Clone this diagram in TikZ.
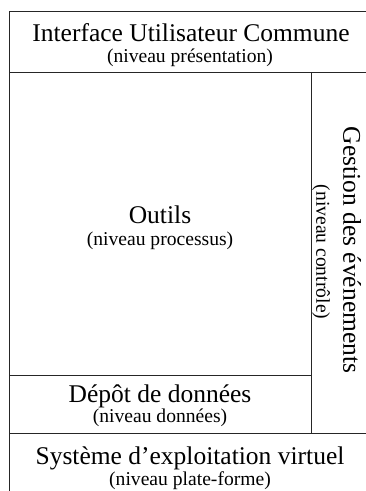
\documentclass[tikz,border=0pt]{standalone}
\usepackage{fontspec}
\setmainfont{Liberation Serif}
\begin{document}
\begin{tikzpicture}[x=1pt,y=-1pt,
  frame/.style={draw=black!85,line width=0.9pt},
  big/.style={font=\fontsize{25.5}{27}\selectfont,inner sep=0pt,anchor=center},
  small/.style={font=\fontsize{19.6}{21}\selectfont,inner sep=0pt,anchor=center}]
\useasboundingbox (0,0) rectangle (366,491);
% frame lines
\coordinate (tl) at (9,11);
\coordinate (tr) at (366,11);
\coordinate (bl) at (9,491);
\coordinate (h1l) at (9,72);
\coordinate (h1r) at (366,72);
\coordinate (v1t) at (311,72);
\coordinate (v1b) at (311,433);
\coordinate (h2l) at (9,375);
\coordinate (h2r) at (311,375);
\coordinate (h3l) at (9,433);
\coordinate (h3r) at (366,433);
\draw[frame] (tr) -- (tl) -- (bl);
\draw[frame] (h1l) -- (h1r);
\draw[frame] (v1t) -- (v1b);
\draw[frame] (h2l) -- (h2r);
\draw[frame] (h3l) -- (h3r);
% texts
\node[big] (iuc) at (191,33) {Interface Utilisateur Commune};
\node[small] (iucs) at (190,58) {(niveau présentation)};
\node[big] (out) at (160,215) {Outils};
\node[small] (outs) at (160,241) {(niveau processus)};
\node[big] (dep) at (160,396) {Dépôt de données};
\node[small] (deps) at (160,418) {(niveau données)};
\node[big] (sys) at (190,458) {Système d’exploitation virtuel};
\node[small] (syss) at (190,481) {(niveau plate-forme)};
\node[big,rotate=-90] (gest) at (352,250) {Gestion des événements};
\node[small,rotate=-90] (gests) at (321,252) {(niveau contrôle)};
\end{tikzpicture}
\end{document}
